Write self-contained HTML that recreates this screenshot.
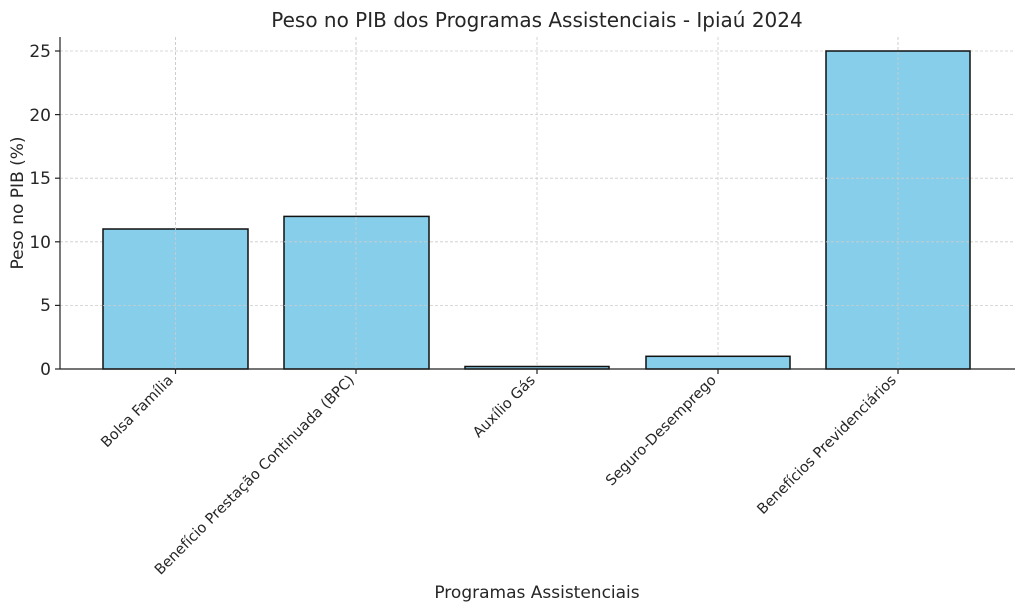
<!DOCTYPE html>
<html><head><meta charset="utf-8"><style>body{margin:0;background:#fff}svg{display:block}text{font-family:"DejaVu Sans","Liberation Sans",sans-serif;fill:#262626}</style></head><body>
<svg width="1024" height="611" viewBox="0 0 1024 611">
<rect width="1024" height="611" fill="#fff"/>
<g stroke="#ccc" stroke-width="0.8" stroke-dasharray="3,2">
<line x1="60" x2="1015" y1="305.4" y2="305.4"/>
<line x1="60" x2="1015" y1="241.8" y2="241.8"/>
<line x1="60" x2="1015" y1="178.2" y2="178.2"/>
<line x1="60" x2="1015" y1="114.6" y2="114.6"/>
<line x1="60" x2="1015" y1="51" y2="51"/>
<line y1="37" y2="369" x1="175.5" x2="175.5"/>
<line y1="37" y2="369" x1="356" x2="356"/>
<line y1="37" y2="369" x1="537" x2="537"/>
<line y1="37" y2="369" x1="718" x2="718"/>
<line y1="37" y2="369" x1="898" x2="898"/>
</g>
<g fill="#87ceeb" stroke="#111" stroke-width="1.5">
<rect x="103" y="229" width="145" height="140"/>
<rect x="284" y="216.4" width="145" height="152.6"/>
<rect x="465" y="366.5" width="144" height="2.5"/>
<rect x="646" y="356.3" width="144" height="12.7"/>
<rect x="826" y="51" width="144" height="318"/>
</g>
<g stroke="#ccc" stroke-width="0.8" stroke-dasharray="3,2">
<line y1="37" y2="369" x1="175.5" x2="175.5"/>
<line y1="37" y2="369" x1="356" x2="356"/>
<line y1="37" y2="369" x1="898" x2="898"/>
<line x1="826" x2="970" y1="114.6" y2="114.6"/><line x1="826" x2="970" y1="178.2" y2="178.2"/><line x1="826" x2="970" y1="241.8" y2="241.8"/><line x1="826" x2="970" y1="305.4" y2="305.4"/>
<line x1="103" x2="248" y1="305.4" y2="305.4"/><line x1="284" x2="429" y1="305.4" y2="305.4"/><line x1="284" x2="429" y1="241.8" y2="241.8"/>
</g>
<g stroke="#222" stroke-width="1.2">
<line x1="60" x2="60" y1="37" y2="369"/>
<line x1="60" x2="1015" y1="369" y2="369"/>
<line x1="55" x2="60" y1="369" y2="369"/><line x1="55" x2="60" y1="305.4" y2="305.4"/><line x1="55" x2="60" y1="241.8" y2="241.8"/><line x1="55" x2="60" y1="178.2" y2="178.2"/><line x1="55" x2="60" y1="114.6" y2="114.6"/><line x1="55" x2="60" y1="51" y2="51"/>
<line x1="175.5" x2="175.5" y1="369" y2="374"/><line x1="356" x2="356" y1="369" y2="374"/><line x1="537" x2="537" y1="369" y2="374"/><line x1="718" x2="718" y1="369" y2="374"/><line x1="898" x2="898" y1="369" y2="374"/>
</g>
<g font-size="17" text-anchor="end">
<text x="51" y="375">0</text><text x="51" y="311">5</text><text x="51" y="248">10</text><text x="51" y="184">15</text><text x="51" y="121">20</text><text x="51" y="57">25</text>
</g>
<g font-size="14.5" text-anchor="end">
<text transform="translate(174,381) rotate(-45)">Bolsa Família</text>
<text transform="translate(355,381) rotate(-45)">Benefício Prestação Continuada (BPC)</text>
<text transform="translate(536,381) rotate(-45)">Auxílio Gás</text>
<text transform="translate(717,381) rotate(-45)">Seguro-Desemprego</text>
<text transform="translate(897,381) rotate(-45)">Benefícios Previdenciários</text>
</g>
<text x="537" y="27" font-size="20" text-anchor="middle">Peso no PIB dos Programas Assistenciais - Ipiaú 2024</text>
<text x="537" y="598" font-size="17" text-anchor="middle">Programas Assistenciais</text>
<text transform="translate(23,203) rotate(-90)" font-size="17" text-anchor="middle">Peso no PIB (%)</text>
</svg>
</body></html>
